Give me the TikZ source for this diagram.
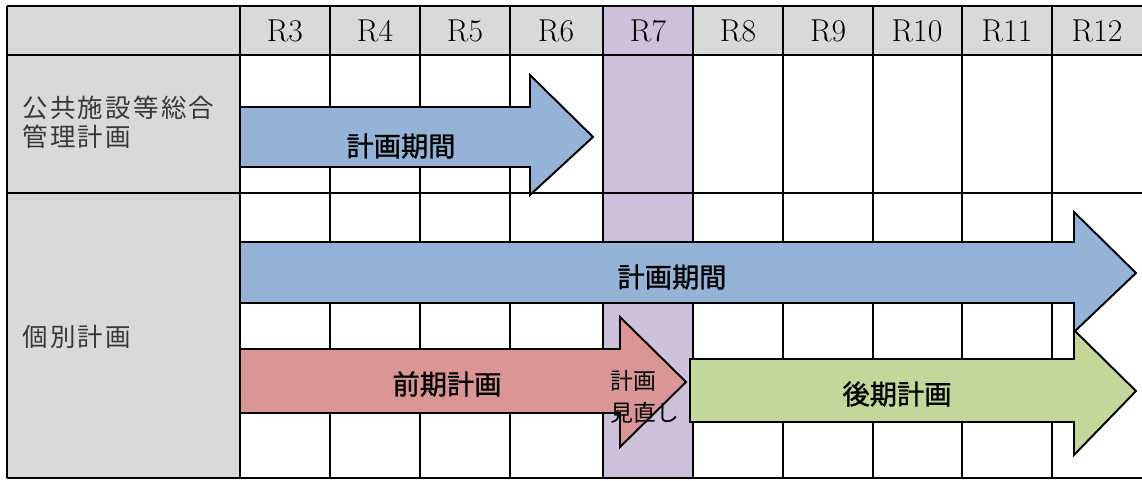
\documentclass[tikz,border=0pt]{standalone}
\usepackage{fontspec}
\usepackage{xcolor}
\usepackage{tikz}
\usetikzlibrary{positioning}
\newfontfamily\jpfont{Noto Sans CJK JP}[LetterSpace=9]
\newfontfamily\jpmid{Noto Sans CJK JP}[FakeBold=1.2]
\newfontfamily\jpsmall{Noto Sans CJK JP}
\definecolor{hdrgray}{HTML}{D9D9D9}
\definecolor{revpurple}{HTML}{CCC0DA}
\definecolor{planblue}{HTML}{95B3D7}
\definecolor{earlyred}{HTML}{DA9694}
\definecolor{lategreen}{HTML}{C4D79B}

\begin{document}
\begin{tikzpicture}[x=0.02cm,y=-0.02cm,
    grid/.style={draw=black,line width=1.1pt},
    period/.style={draw=black,line width=1.1pt,line join=miter},
    year/.style={font=\fontsize{18}{20}\selectfont,inner sep=0pt},
    rowlabel/.style={font=\jpfont\fontsize{14.5}{16.4}\selectfont,text=black!78,align=left,anchor=west,inner sep=0pt},
    bar/.style={font=\jpmid\fontsize{15.5}{18}\selectfont,inner sep=0pt}]
  \useasboundingbox (0,0) rectangle (1142,480);

  % shading: header row, label column, review year
  \fill[hdrgray] (7,6) rectangle (1142,55);
  \fill[hdrgray] (7,55) rectangle (240,478);
  \fill[revpurple] (603,6) rectangle (693,478);

  % table grid
  \draw[grid] (7,6) -- (1142,6) (7,55) -- (1142,55) (7,193) -- (1142,193) (7,478) -- (1142,478);
  \foreach \x in {7,240,330,420,510,603,693,783,873,962,1052}
    \draw[grid] (\x,6) -- (\x,478);

  % years
  \foreach \c [count=\i from 3] in {285,375,465,556,648,738,828,917,1007,1097}
    \node[year] (yr\i) at (\c,31) {R\i};

  % period arrows
  \draw[period,fill=planblue] (240,107) -- (530,107) -- (530,75) -- (593,137) -- (530,195) -- (530,167) -- (240,167) -- cycle;
  \draw[period,fill=planblue] (240,242) -- (1074,242) -- (1074,212) -- (1136,273) -- (1074,332) -- (1074,303) -- (240,303) -- cycle;
  \draw[period,fill=earlyred] (240,349) -- (620,349) -- (620,317) -- (686,382) -- (620,447) -- (620,413) -- (240,413) -- cycle;
  \draw[period,fill=lategreen] (690,359) -- (1074,359) -- (1074,330) -- (1136,391) -- (1074,455) -- (1074,422) -- (690,422) -- cycle;

  % labels
  \node[rowlabel] (mgmt) at (22,122) {公共施設等総合\\管理計画};
  \node[rowlabel] (indiv) at (22,337) {個別計画};
  \node[bar] (mgmtbar) at (401,146) {計画期間};
  \node[bar] (indivbar) at (672,277) {計画期間};
  \node[bar] (early) at (447,384) {前期計画};
  \node[bar] (late) at (897,394) {後期計画};
  \node[font=\jpsmall\fontsize{13}{18}\selectfont,align=left,anchor=west,inner sep=0pt] (review) at (610,397) {計画\\見直し};
\end{tikzpicture}
\end{document}
